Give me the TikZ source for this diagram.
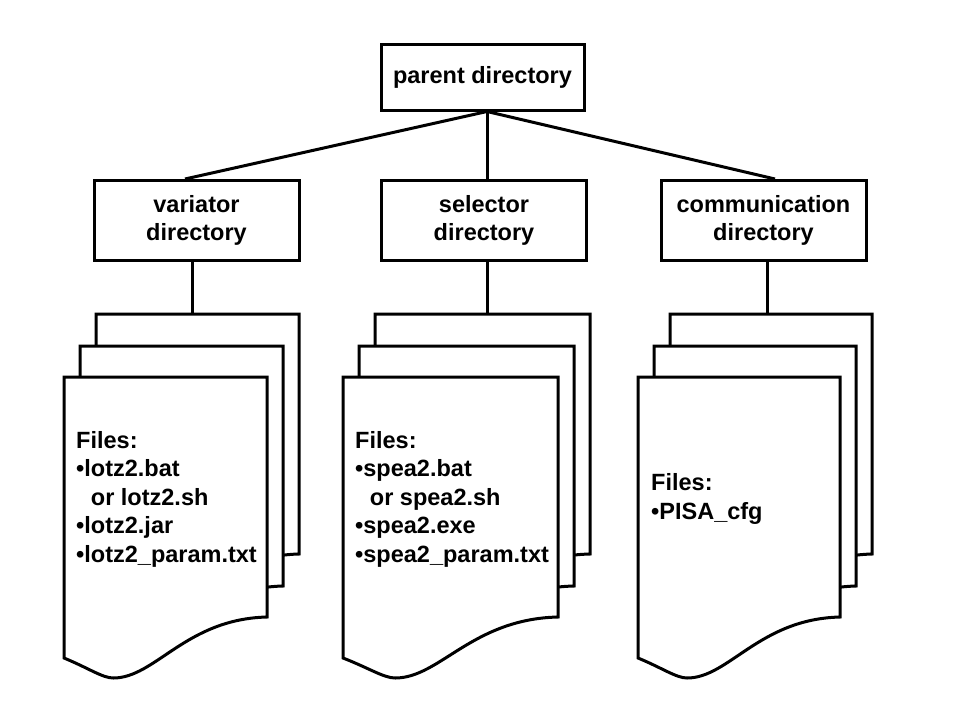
\documentclass[tikz,border=0pt]{standalone}
\usepackage{fontspec}
\setmainfont{Liberation Sans}
\usetikzlibrary{positioning, calc}
\tikzset{ordner/.style={rectangle,draw,line width=3pt,minimum width=205pt,align=center},
	blatt/.style={draw,fill=white,line width=3pt,line join=miter},
	liste/.style={align=left,anchor=west,inner sep=0},
	linie/.style={line width=3pt} }
\newcommand{\seite}[3]{%
	\filldraw[blatt] ({#1},{#2}) -- ({#1+#3},{#2}) -- ({#1+#3},{#2+240})
		.. controls ({#1+0.6*#3},{#2+242}) and ({#1+0.45*#3},{#2+301}) .. ({#1+0.243*#3},{#2+301})
		.. controls ({#1+0.19*#3},{#2+301}) and ({#1+0.12*#3},{#2+291}) .. ({#1},{#2+281}) -- cycle;}

\begin{document}
\begin{tikzpicture}
	[x=1pt, y=-1pt,
	 font=\fontsize{23.5}{28.5}\selectfont\bfseries,
	 inner sep=0]
  \useasboundingbox (0,0) rectangle (960,720);

  \node (p) [ordner, minimum width=203pt, minimum height=66pt] at (482.5,77) {parent directory};
  \node (v) [ordner, minimum height=80pt] at (196.5,220.5) {variator\\directory};
  \node (s) [ordner, minimum height=80pt] at (484,220.5) {selector\\directory};
  \node (k) [ordner, minimum height=80pt] at (763.5,220.5) {communication\\directory};

  \foreach \x/\w in {64/203, 343/215, 638/202} {
  	\seite{\x+32}{314}{\w}
  	\seite{\x+16}{346}{\w}
  	\seite{\x}{377}{\w}
  }

  \node (vliste) [liste] at (76,499) {Files:\\•lotz2.bat\\\phantom{•} or lotz2.sh\\•lotz2.jar\\•lotz2\_param.txt};
  \node (sliste) [liste] at (355,499) {Files:\\•spea2.bat\\\phantom{•} or spea2.sh\\•spea2.exe\\•spea2\_param.txt};
  \node (kliste) [liste] at (651,499) {Files:\\•PISA\_cfg};

  \coordinate (vdoc) at (192,314);
  \coordinate (sdoc) at (487,314);
  \coordinate (kdoc) at (767,314);

  \draw[linie] ([xshift=4.5pt]p.south) -- ([xshift=-11.5pt]v.north);
  \draw[linie] ([xshift=4.5pt]p.south) -- ([xshift=3pt]s.north);
  \draw[linie] ([xshift=4.5pt]p.south) -- ([xshift=11.5pt]k.north);
  \draw[linie] (v.south -| vdoc) -- (vdoc);
  \draw[linie] (s.south -| sdoc) -- (sdoc);
  \draw[linie] (k.south -| kdoc) -- (kdoc);
\end{tikzpicture}
\end{document}
